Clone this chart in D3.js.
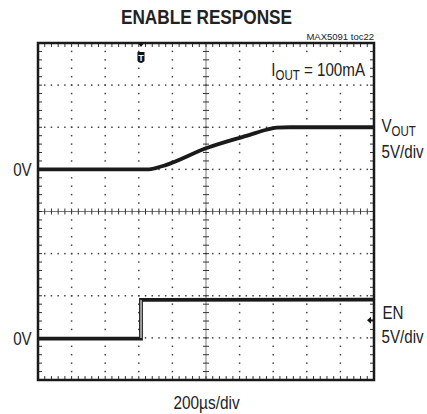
<!DOCTYPE html>
<html>
<head>
<meta charset="utf-8">
<script src="https://cdn.jsdelivr.net/npm/d3@7"></script>
<style>
  body { margin: 0; background: #fff; }
  text { font-family: "Liberation Sans", Arial, sans-serif; fill: #222; }
</style>
</head>
<body>
<div id="chart"></div>
<script>
// scope screen: 10 x 8 divisions, 200us/div, 5V/div for both channels
var timeDomain = [0, 2000];              // us
var voutTime   = [0, 660, 700, 760, 1000, 1260, 1360, 1420, 1500, 2000];
var voutVolts  = [0, 0, 0.15, 0.5, 2.5, 4.1, 4.7, 4.95, 5.0, 5.0];
var enTime     = [0, 613, 613, 2000];
var enVolts    = [-0.1, -0.1, 4.5, 4.55];
var triggerTime = 613;
var enTriggerLevel = 2.1;

var W = 427, H = 414;
var margin = {top: 43, right: 53, bottom: 34, left: 38};
var width = W - margin.left - margin.right,
    height = H - margin.top - margin.bottom;

var svg = d3.select("#chart")
  .append("svg")
    .attr("width", W)
    .attr("height", H);

var g = svg.append("g")
    .attr("transform", "translate(" + margin.left + "," + margin.top + ")");

var x = d3.scaleLinear().domain(timeDomain).range([0, width]);
// VOUT 0V sits 3 div below top, EN 0V sits 7 div below top
var yVout = d3.scaleLinear().domain([-25, 15]).range([height, 0]);
var yEn = d3.scaleLinear().domain([-5, 35]).range([height, 0]);

var xDiv = width / 10, yDiv = height / 8;

// dotted grid
for (var i = 1; i < 10; i++) {
  if (i === 5) continue;
  for (var k = 1; k < 40; k++) {
    g.append("rect").attr("x", i * xDiv - 0.75).attr("y", k * yDiv / 5 - 0.75)
      .attr("width", 1.5).attr("height", 1.5).attr("fill", "#444");
  }
}
for (var j = 1; j < 8; j++) {
  if (j === 4) continue;
  for (var k = 1; k < 50; k++) {
    g.append("rect").attr("x", k * xDiv / 5 - 0.75).attr("y", j * yDiv - 0.75)
      .attr("width", 1.5).attr("height", 1.5).attr("fill", "#444");
  }
}

// centre cross with minor ticks
g.append("line").attr("x1", width / 2).attr("x2", width / 2).attr("y1", 0).attr("y2", height)
  .attr("stroke", "#555").attr("stroke-width", 0.8);
g.append("line").attr("x1", 0).attr("x2", width).attr("y1", height / 2).attr("y2", height / 2)
  .attr("stroke", "#555").attr("stroke-width", 0.8);
d3.range(1, 50).forEach(function(k) {
  var xx = k * xDiv / 5;
  g.append("line").attr("x1", xx).attr("x2", xx).attr("y1", height / 2 - 3).attr("y2", height / 2 + 3)
    .attr("stroke", "#333").attr("stroke-width", 1);
  g.append("line").attr("x1", xx).attr("x2", xx).attr("y1", 0).attr("y2", 4)
    .attr("stroke", "#333").attr("stroke-width", 1);
  g.append("line").attr("x1", xx).attr("x2", xx).attr("y1", height - 4).attr("y2", height)
    .attr("stroke", "#333").attr("stroke-width", 1);
});
d3.range(1, 40).forEach(function(k) {
  var yy = k * yDiv / 5;
  g.append("line").attr("y1", yy).attr("y2", yy).attr("x1", width / 2 - 3).attr("x2", width / 2 + 3)
    .attr("stroke", "#333").attr("stroke-width", 1);
  g.append("line").attr("y1", yy).attr("y2", yy).attr("x1", 0).attr("x2", 4)
    .attr("stroke", "#333").attr("stroke-width", 1);
  g.append("line").attr("y1", yy).attr("y2", yy).attr("x1", width - 4).attr("x2", width)
    .attr("stroke", "#333").attr("stroke-width", 1);
});

// white box behind the load current note
g.append("rect").attr("x", 224).attr("y", 14).attr("width", 106).attr("height", 26).attr("fill", "#fff");

// traces
var voutData = voutTime.map(function(t, i) { return {t: t, v: voutVolts[i]}; });
var enData = enTime.map(function(t, i) { return {t: t, v: enVolts[i]}; });

g.append("path")
  .datum(voutData)
  .attr("fill", "none")
  .attr("stroke", "#1a1a1a")
  .attr("stroke-width", 3.8)
  .attr("d", d3.line().x(function(d) { return x(d.t); }).y(function(d) { return yVout(d.v); })
    .curve(d3.curveMonotoneX));

g.append("path")
  .datum(enData)
  .attr("fill", "none")
  .attr("stroke", "#1a1a1a")
  .attr("stroke-width", 3.8)
  .attr("d", d3.line().x(function(d) { return x(d.t); }).y(function(d) { return yEn(d.v); }));
// the rising edge is thin on the scope
g.append("line")
  .attr("x1", x(triggerTime)).attr("x2", x(triggerTime))
  .attr("y1", yEn(0)).attr("y2", yEn(4.5))
  .attr("stroke", "#fff").attr("stroke-width", 2);
g.append("line")
  .attr("x1", x(triggerTime)).attr("x2", x(triggerTime))
  .attr("y1", yEn(0)).attr("y2", yEn(4.5))
  .attr("stroke", "#333").attr("stroke-width", 1);

// frame
g.append("rect").attr("width", width).attr("height", height)
  .attr("fill", "none").attr("stroke", "#1a1a1a").attr("stroke-width", 2.5);

// trigger marker
var tx = x(triggerTime);
g.append("path").attr("d", "M" + (tx - 3) + ",0 L" + (tx + 3) + ",0 L" + tx + ",4 Z").attr("fill", "#111");
g.append("path")
  .attr("d", "M" + (tx - 3.5) + ",9 L" + (tx + 3.5) + ",9 L" + (tx + 3.5) + ",18 Q" + tx + ",22 " + (tx - 3.5) + ",18 Z")
  .attr("fill", "#111");
g.append("text").attr("x", tx).attr("y", 17.5).attr("text-anchor", "middle")
  .style("font-size", "9px").style("font-weight", "bold").style("fill", "#fff").text("T");

// EN trigger level marker
var ly = yEn(enTriggerLevel);
g.append("path").attr("d", "M" + (width - 7) + "," + ly + " L" + (width - 3) + "," + (ly - 3.5) + " L" + (width - 3) + "," + (ly + 3.5) + " Z")
  .attr("fill", "#111");
g.append("line").attr("x1", width - 3).attr("x2", width).attr("y1", ly).attr("y2", ly)
  .attr("stroke", "#111").attr("stroke-width", 1.5);

// texts (condensed like the scope font)
function label(px, py, str, size, anchor, sx, weight) {
  var t = svg.append("text")
    .attr("transform", "translate(" + px + "," + py + ") scale(" + sx + ",1)")
    .attr("text-anchor", anchor)
    .style("font-size", size + "px")
    .style("font-weight", weight || "normal");
  return t.text(str);
}

label(206.5, 23.7, "ENABLE RESPONSE", 21, "middle", 0.82, "bold");
label(374, 39.5, "MAX5091 toc22", 9.5, "end", 1.0);

var iout = label(365, 75.7, "", 18.5, "end", 0.82);
iout.append("tspan").text("I");
iout.append("tspan").attr("dy", 4).style("font-size", "14px").text("OUT");
iout.append("tspan").attr("dy", -4).text(" = 100mA");

var vout = label(381.5, 131.7, "", 18.5, "start", 0.82);
vout.append("tspan").text("V");
vout.append("tspan").attr("dy", 4).style("font-size", "14px").text("OUT");
label(381.5, 158, "5V/div", 18.5, "start", 0.82);

label(382.5, 319.3, "EN", 18.5, "start", 0.82);
label(381.5, 342.7, "5V/div", 18.5, "start", 0.82);

label(31.7, margin.top + yVout(0) + 7, "0V", 18.5, "end", 0.82);
label(31.7, margin.top + yEn(0) + 7, "0V", 18.5, "end", 0.82);

label(206.5, 408.5, "200µs/div", 17.5, "middle", 0.88);
</script>
</body>
</html>
